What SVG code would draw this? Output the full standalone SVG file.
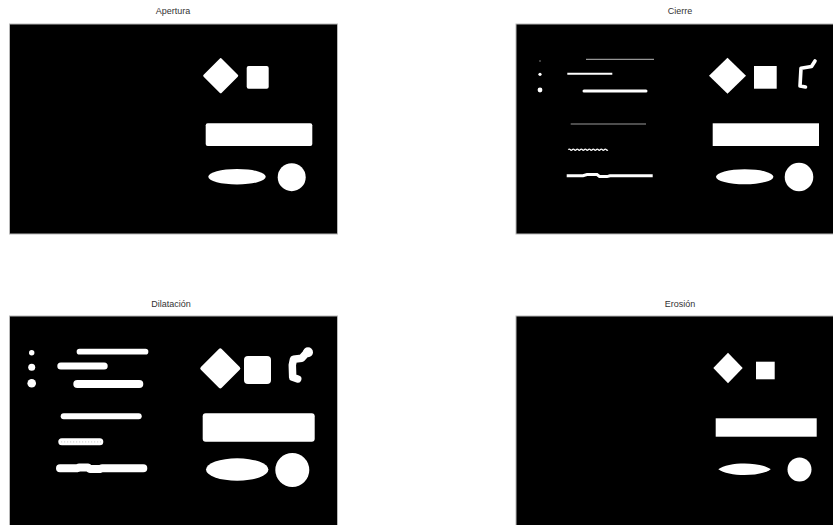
<svg xmlns="http://www.w3.org/2000/svg" width="833" height="525" viewBox="0 0 833 525">
<style>
.bg{fill:#fff}
.frame{fill:#000;stroke:#b8b8b8;stroke-width:1}
.title{font-family:"Liberation Sans",Arial,sans-serif;font-size:9px;fill:#333;text-anchor:middle}
.w{fill:#fff}
.wr{fill:#fff;stroke:#fff;stroke-linejoin:round}
.ln{stroke:#fff;fill:none}
.rc{stroke:#fff;fill:none;stroke-linecap:round;stroke-linejoin:round}
</style>
<rect class="bg" x="0" y="0" width="833" height="525"/>

<g id="apertura">
<text class="title" x="173" y="14">Apertura</text>
<rect class="frame" x="9.5" y="24" width="328" height="210"/>
<polygon class="wr" stroke-width="3" points="220.7,59.7 236.7,75.7 220.7,91.7 204.7,75.7"/>
<rect class="w" x="246.7" y="66" width="22" height="22.7" rx="2"/>
<rect class="w" x="205.7" y="123.3" width="106.6" height="22.7" rx="2"/>
<ellipse class="w" cx="237" cy="176.7" rx="28.7" ry="7.7"/>
<circle class="w" cx="291.7" cy="177.2" r="14"/>
</g>

<g id="cierre">
<text class="title" x="680" y="14">Cierre</text>
<rect class="frame" x="516" y="24" width="328" height="210"/>
<circle fill="#888" cx="540" cy="61" r="0.8"/>
<circle class="w" cx="540" cy="74.3" r="1.6"/>
<circle class="w" cx="540" cy="90" r="2.4"/>
<line x1="586" y1="59.3" x2="654" y2="59.3" stroke="#bbb" stroke-width="1"/>
<line class="ln" x1="567.3" y1="73.7" x2="612.3" y2="73.7" stroke-width="2"/>
<line class="rc" x1="584" y1="91" x2="646" y2="91" stroke-width="3"/>
<line x1="570.7" y1="124" x2="646" y2="124" stroke="#999" stroke-width="1.2"/>
<path class="ln" stroke-width="1.3" d="M568.3,149.7 q1,-1.3 2,0 t2,0 t2,0 t2,0 t2,0 t2,0 t2,0 t2,0 t2,0 t2,0 t2,0 t2,0 t2,0 t2,0 t2,0 t2,0 t2,0 t2,0 t2,0 t1.4,0"/>
<path class="ln" stroke-width="3" d="M566.7,175.7 L583,175.7 L587,174.6 L597,174.6 L599.5,176.5 L607,176.6 L610,175.7 L652.7,175.7"/>
<polygon class="w" points="727.5,57.7 746,75.7 727.5,93.7 709,75.7"/>
<rect class="w" x="754" y="66" width="22.7" height="22.7"/>
<polyline class="rc" stroke-width="3.6" points="815,61 811.5,66.5 801,68.3 800,86 805.5,87"/>
<rect class="w" x="712.7" y="123.3" width="106.3" height="22.7"/>
<ellipse class="w" cx="744.7" cy="176.8" rx="28.7" ry="7.5"/>
<circle class="w" cx="799" cy="177" r="14.3"/>
</g>

<g id="dilatacion">
<text class="title" x="171" y="307">Dilatación</text>
<rect class="frame" x="9.5" y="316" width="328" height="212"/>
<circle class="w" cx="31.7" cy="352.7" r="2.7"/>
<circle class="w" cx="31.7" cy="367.3" r="3.5"/>
<circle class="w" cx="31.7" cy="383.3" r="4.3"/>
<line class="rc" x1="79.5" y1="351.7" x2="145.5" y2="351.7" stroke-width="5.7"/>
<line class="rc" x1="60.8" y1="366" x2="104.2" y2="366" stroke-width="7"/>
<line class="rc" x1="77.3" y1="384" x2="139.3" y2="384" stroke-width="8"/>
<line class="rc" x1="63.7" y1="416.3" x2="138.7" y2="416.3" stroke-width="6"/>
<line class="rc" x1="61.8" y1="441.7" x2="99.8" y2="441.7" stroke-width="7"/>
<line x1="61" y1="441.9" x2="101" y2="441.9" stroke="#aaa" stroke-width="0.6" stroke-dasharray="1.2 1.8"/>
<path class="rc" stroke-width="8" d="M60,468.3 L77,468.3 L79,467.6 L88,467.6 L90,469 L100,469 L102,468.3 L143.3,468.3"/>
<polygon class="wr" stroke-width="4" points="220.3,350.3 238.3,368.3 220.3,386.3 202.3,368.3"/>
<rect class="w" x="244" y="356" width="27" height="28" rx="4"/>
<polyline class="rc" stroke-width="7.5" points="307.3,352 301.7,358.3 293.5,359.3 292.3,365 292.7,377.3 297.7,379"/>
<circle class="w" cx="308" cy="352.3" r="5"/>
<rect class="w" x="202.7" y="413.3" width="112" height="28.4" rx="3"/>
<ellipse class="w" cx="237.2" cy="469.5" rx="31.2" ry="11.2"/>
<circle class="w" cx="292.3" cy="470" r="17"/>
</g>

<g id="erosion">
<text class="title" x="680" y="307">Erosión</text>
<rect class="frame" x="516" y="316" width="328" height="212"/>
<polygon class="w" points="728,352.7 742.7,368 728,383.3 713.3,368"/>
<rect class="w" x="756" y="361.7" width="18.7" height="17.6"/>
<rect class="w" x="715.7" y="418.3" width="101" height="18.4"/>
<path class="w" d="M718.3,469.2 C728,461.5 761,461.5 770.7,469.2 C761,476.9 728,476.9 718.3,469.2 Z"/>
<circle class="w" cx="799.5" cy="469.5" r="12"/>
</g>
</svg>
